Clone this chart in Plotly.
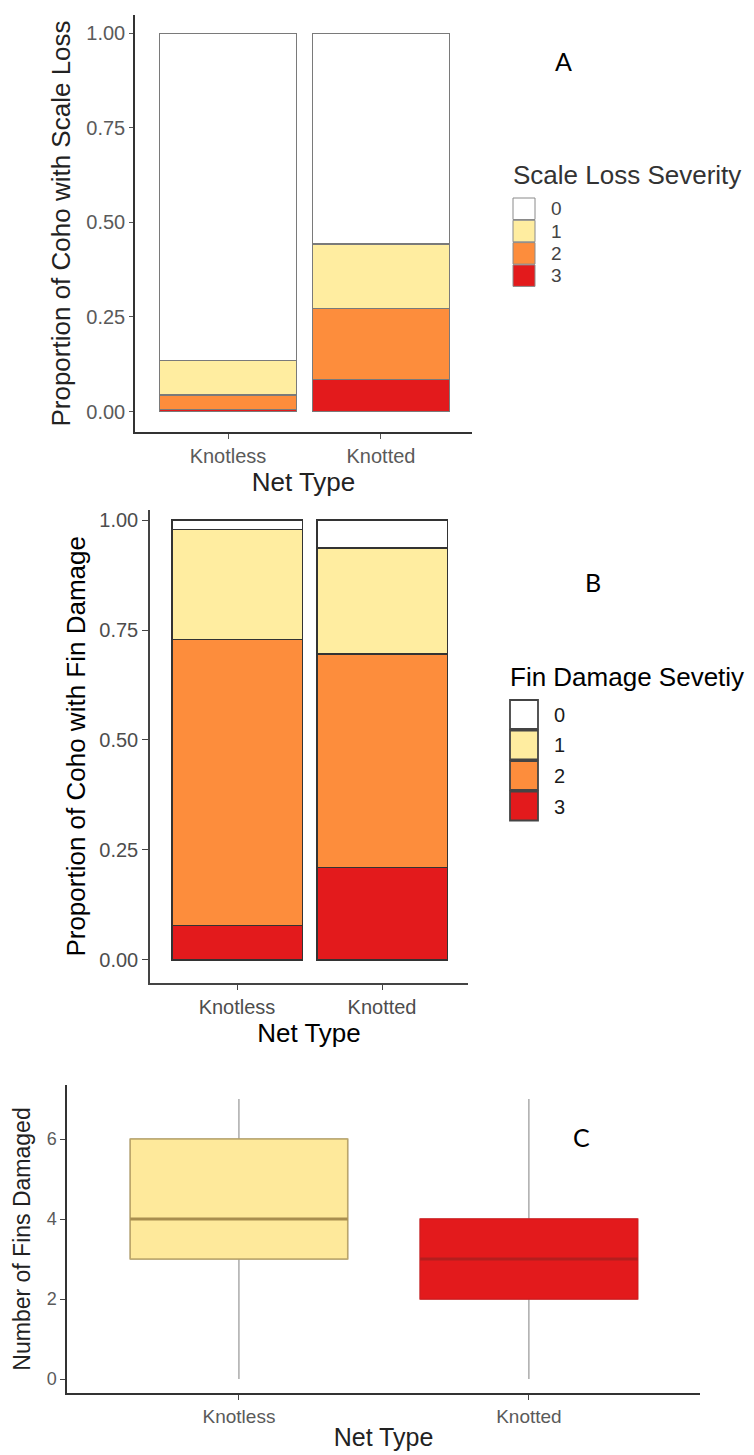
import plotly.graph_objects as go

W, H = 754, 1455

# ---------------- data ----------------
net_types = ["Knotless", "Knotted"]
severity_levels = ["0", "1", "2", "3"]
severity_colors = ["#FFFFFF", "#FFEDA0", "#FD8D3C", "#E31A1C"]

# Panel A: proportion of coho by scale loss severity
scale_sev0 = [0.866, 0.557]
scale_sev1 = [0.090, 0.170]
scale_sev2 = [0.038, 0.189]
scale_sev3 = [0.006, 0.084]

# Panel B: proportion of coho by fin damage severity
fin_sev0 = [0.021, 0.063]
fin_sev1 = [0.250, 0.242]
fin_sev2 = [0.651, 0.485]
fin_sev3 = [0.078, 0.210]

# Panel C: number of fins damaged (box summary)
fins_lower = [0, 0]
fins_q1 = [3, 2]
fins_median = [4, 3]
fins_q3 = [6, 4]
fins_upper = [7, 7]
box_fill = ["#FEE99B", "#E31A1C"]
box_edge = ["#BCA66A", "#D81A1C"]
box_median = ["#A88E4F", "#B31E1E"]

prop_ticks = [0, 0.25, 0.5, 0.75, 1.0]
prop_ticktext = ["0.00", "0.25", "0.50", "0.75", "1.00"]
fin_ticks = [0, 2, 4, 6]

FONT = "Liberation Sans, Arial, sans-serif"


def xd(a, b):
    return [a / W, b / W]


def yd(top, bottom):
    return [1 - bottom / H, 1 - top / H]


def px(x):
    return x / W


def py(y):
    return 1 - y / H


fig = go.Figure()

scale_series = [scale_sev0, scale_sev1, scale_sev2, scale_sev3]
fin_series = [fin_sev0, fin_sev1, fin_sev2, fin_sev3]

# stacked bars: severity 3 at the bottom, 0 on top
for i in [3, 2, 1, 0]:
    fig.add_trace(go.Bar(
        x=net_types, y=scale_series[i], name=severity_levels[i],
        marker=dict(color=severity_colors[i], line=dict(color="#7a7a7a", width=1.2)),
        width=0.9, xaxis="x", yaxis="y", showlegend=False))
for i in [3, 2, 1, 0]:
    fig.add_trace(go.Bar(
        x=net_types, y=fin_series[i], name=severity_levels[i],
        marker=dict(color=severity_colors[i], line=dict(color="#333333", width=1.5)),
        width=0.9, xaxis="x2", yaxis="y2", showlegend=False))

# box plot built from summary statistics
for k, nt in enumerate(net_types):
    # whiskers
    fig.add_trace(go.Box(
        x=[nt], q1=[fins_q1[k]], median=[fins_median[k]], q3=[fins_q3[k]],
        lowerfence=[fins_lower[k]], upperfence=[fins_upper[k]],
        width=0.75, whiskerwidth=0, line=dict(color="#808080", width=1),
        fillcolor="rgba(0,0,0,0)", xaxis="x3", yaxis="y3", showlegend=False,
        boxpoints=False))
    # box body
    fig.add_trace(go.Box(
        x=[nt], q1=[fins_q1[k]], median=[fins_median[k]], q3=[fins_q3[k]],
        lowerfence=[fins_q1[k]], upperfence=[fins_q3[k]],
        width=0.75, whiskerwidth=0, line=dict(color=box_edge[k], width=1.5),
        fillcolor=box_fill[k], xaxis="x3", yaxis="y3", showlegend=False,
        boxpoints=False))
    # median line
    fig.add_trace(go.Box(
        x=[nt], q1=[fins_median[k]], median=[fins_median[k]], q3=[fins_median[k]],
        lowerfence=[fins_median[k]], upperfence=[fins_median[k]],
        width=0.75, whiskerwidth=0, line=dict(color=box_median[k], width=3),
        fillcolor="rgba(0,0,0,0)", xaxis="x3", yaxis="y3", showlegend=False,
        boxpoints=False))

axis_common = dict(showgrid=False, zeroline=False, showline=True,
                   ticks="outside", mirror=False)

fig.update_layout(
    width=W, height=H,
    margin=dict(l=0, r=0, t=0, b=0),
    paper_bgcolor="white", plot_bgcolor="white",
    barmode="stack", boxmode="overlay",
    showlegend=False,
    font=dict(family=FONT),
    # ---- panel A ----
    xaxis=dict(**axis_common, domain=xd(135, 472), anchor="y",
               range=[-0.608, 1.595], type="category",
               linecolor="#333333", linewidth=1.5, tickcolor="#555555", ticklen=5,
               tickfont=dict(size=20, color="#5a5a5a"),
               title=dict(text="Net Type", font=dict(size=26, color="#222222"), standoff=4)),
    yaxis=dict(**axis_common, domain=yd(15, 432), anchor="x",
               range=[-0.054, 1.048], tickvals=prop_ticks, ticktext=prop_ticktext,
               linecolor="#333333", linewidth=1.5, tickcolor="#555555", ticklen=4,
               tickfont=dict(size=20, color="#5a5a5a"),
               title=dict(text="Proportion of Coho with Scale Loss",
                          font=dict(size=26, color="#222222"), standoff=8)),
    # ---- panel B ----
    xaxis2=dict(**axis_common, domain=xd(150, 468), anchor="y2",
                range=[-0.6, 1.593], type="category",
                linecolor="#444444", linewidth=1.5, tickcolor="#444444", ticklen=6,
                tickfont=dict(size=20, color="#4d4d4d"),
                title=dict(text="Net Type", font=dict(size=26, color="#000000"), standoff=6)),
    yaxis2=dict(**axis_common, domain=yd(510, 982.7), anchor="x2",
                range=[-0.052, 1.023], tickvals=prop_ticks, ticktext=prop_ticktext,
                linecolor="#444444", linewidth=1.5, tickcolor="#444444", ticklen=6,
                tickfont=dict(size=20, color="#4d4d4d"),
                title=dict(text="Proportion of Coho with Fin Damage",
                           font=dict(size=26, color="#000000"), standoff=6)),
    # ---- panel C ----
    xaxis3=dict(**axis_common, domain=xd(67, 700), anchor="y3",
                range=[-0.593, 1.59], type="category",
                linecolor="#333333", linewidth=1.5, tickcolor="#444444", ticklen=5,
                tickfont=dict(size=19, color="#5a5a5a"),
                title=dict(text="Net Type", font=dict(size=25, color="#222222"), standoff=3)),
    yaxis3=dict(**axis_common, domain=yd(1085, 1393), anchor="x3",
                range=[-0.35, 7.35], tickvals=fin_ticks,
                linecolor="#333333", linewidth=1.5, tickcolor="#444444", ticklen=5,
                tickfont=dict(size=18, color="#5a5a5a"),
                title=dict(text="Number of Fins Damaged",
                           font=dict(size=23, color="#222222"), standoff=10)),
)

shapes = []
annotations = []

# panel labels
for lab, (lx, ly) in zip(["A", "B", "C"], [(563, 61), (593, 582), (581, 1137)]):
    annotations.append(dict(text=lab, x=px(lx), y=py(ly), xref="paper", yref="paper",
                            showarrow=False, xanchor="center", yanchor="middle",
                            font=dict(size=25, color="#000000", family="Lato, sans-serif")))

# legend A (drawn)
annotations.append(dict(text="Scale Loss Severity", x=px(511), y=py(175), xref="paper",
                        yref="paper", showarrow=False, xanchor="left", yanchor="middle",
                        font=dict(size=26, color="#333333")))
for i, (lvl, col) in enumerate(zip(severity_levels, severity_colors)):
    top = 198 + i * 22.3
    shapes.append(dict(type="rect", xref="paper", yref="paper",
                       x0=px(513), x1=px(535), y0=py(top + 21.5), y1=py(top),
                       fillcolor=col, line=dict(color="#8a8a8a", width=1)))
    annotations.append(dict(text=lvl, x=px(549), y=py(top + 11), xref="paper", yref="paper",
                            showarrow=False, xanchor="left", yanchor="middle",
                            font=dict(size=19, color="#444444")))

# legend B (drawn)
annotations.append(dict(text="Fin Damage Sevetiy", x=px(508), y=py(677), xref="paper",
                        yref="paper", showarrow=False, xanchor="left", yanchor="middle",
                        font=dict(size=26, color="#000000")))
for i, (lvl, col) in enumerate(zip(severity_levels, severity_colors)):
    top = 700 + i * 30.5
    shapes.append(dict(type="rect", xref="paper", yref="paper",
                       x0=px(510), x1=px(538), y0=py(top + 29), y1=py(top),
                       fillcolor=col, line=dict(color="#444444", width=1.8)))
    annotations.append(dict(text=lvl, x=px(552), y=py(top + 15), xref="paper", yref="paper",
                            showarrow=False, xanchor="left", yanchor="middle",
                            font=dict(size=20, color="#1a1a1a")))

fig.update_layout(shapes=shapes, annotations=annotations)

fig.write_html(
    "out.html",
    config={"displayModeBar": False},
    post_script="document.body.style.margin='0';document.body.style.overflow='hidden';",
)
